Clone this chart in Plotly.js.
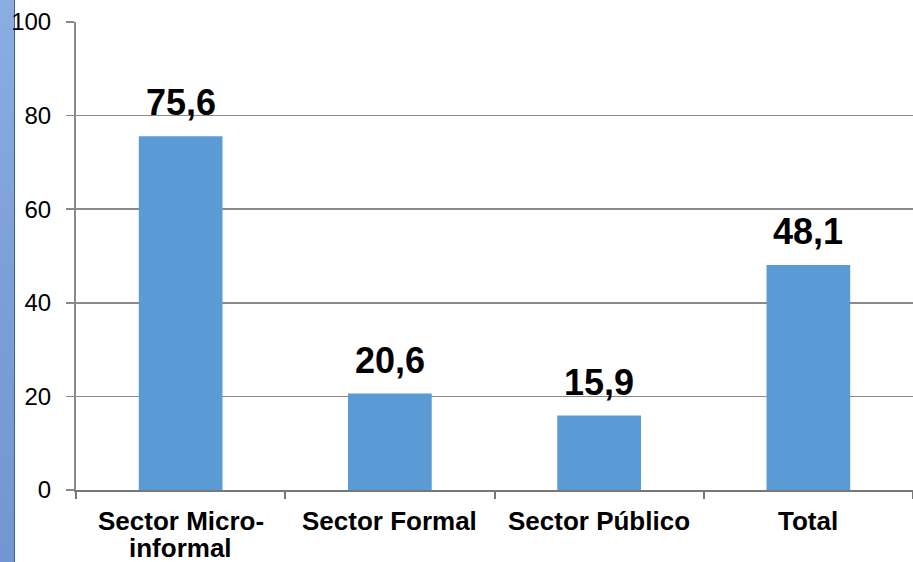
<!DOCTYPE html>
<html>
<head>
<meta charset="utf-8">
<script src="https://cdn.plot.ly/plotly-3.0.1.min.js"></script>
<style>
  html, body { margin: 0; padding: 0; background: #ffffff; }
  #strip { position: absolute; left: 0; top: 0; width: 14px; height: 562px;
           background: linear-gradient(180deg, #8aaee2 0%, #7d9fd7 50%, #7396d2 100%);
           border-right: 1.5px solid #3f5f95; }
  #chart { position: absolute; left: 0; top: 0; width: 913px; height: 562px; }
</style>
</head>
<body>
<div id="strip"></div>
<div id="chart"></div>
<script>
const categories = ['Sector Micro-<br>informal', 'Sector Formal', 'Sector Público', 'Total'];
const values = [75.6, 20.6, 15.9, 48.1];
const valueLabels = ['75,6', '20,6', '15,9', '48,1'];
const yTickVals = [0, 20, 40, 60, 80, 100];

const FONT = 'Arial, Liberation Sans, sans-serif';
const annotations = [];
categories.forEach((c, i) => {
  c.split('<br>').forEach((line, j) => {
    annotations.push({
      x: i, xref: 'x', y: -(31 + j * 27) / 468, yref: 'paper',
      text: line, showarrow: false, yanchor: 'middle', xanchor: 'center',
      font: { family: FONT, size: 26, color: '#000', weight: 'bold' }
    });
  });
});
values.forEach((v, i) => {
  annotations.push({
    x: i, xref: 'x', y: v, yref: 'y',
    text: valueLabels[i], showarrow: false, yanchor: 'bottom', xanchor: 'center', yshift: 11,
    font: { family: FONT, size: 36, color: '#000', weight: 'bold' }
  });
});

const trace = {
  type: 'bar',
  x: categories.map((c, i) => i),
  y: values,
  width: 0.4,
  marker: { color: '#5b9bd5' },
  hoverinfo: 'none'
};

const layout = {
  width: 913, height: 562,
  margin: { l: 76, r: 0, t: 22, b: 72 },
  paper_bgcolor: 'rgba(0,0,0,0)',
  plot_bgcolor: 'rgba(0,0,0,0)',
  showlegend: false,
  font: { family: FONT, color: '#000' },
  xaxis: {
    range: [-0.5, 3.5],
    tickvals: [-0.5, 0.5, 1.5, 2.5, 3.5],
    showticklabels: false,
    showgrid: false,
    zeroline: false,
    showline: true, linecolor: '#777', linewidth: 2,
    ticks: 'outside', ticklen: 7, tickcolor: '#777', tickwidth: 2
  },
  yaxis: {
    range: [0, 100],
    tickvals: yTickVals,
    ticktext: yTickVals.map(String),
    tickfont: { size: 24, color: '#000' },
    showgrid: true, gridcolor: '#8a8a8a', gridwidth: 1.5,
    zeroline: false,
    showline: true, linecolor: '#8a8a8a', linewidth: 2,
    ticks: 'outside', ticklen: 8, tickcolor: '#8a8a8a', tickwidth: 1.5,
    ticklabelstandoff: 10
  },
  annotations: annotations
};

Plotly.newPlot('chart', [trace], layout, { displayModeBar: false, staticPlot: true });
</script>
</body>
</html>
